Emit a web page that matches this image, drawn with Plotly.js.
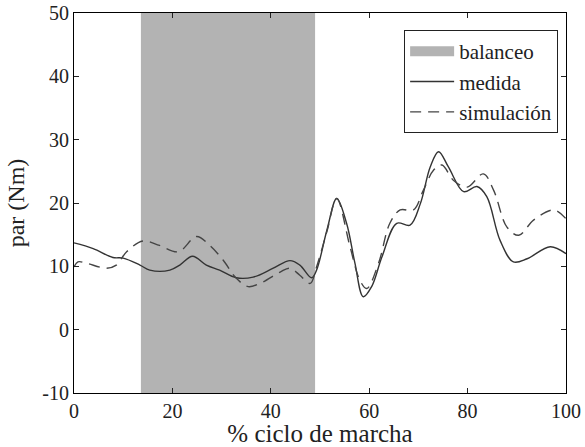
<!DOCTYPE html>
<html>
<head>
<meta charset="utf-8">
<script src="https://cdn.plot.ly/plotly-3.0.1.min.js"></script>
<style>html,body{margin:0;padding:0;background:#fff;}#chart{width:585px;height:447px;}</style>
</head>
<body>
<div id="chart"></div>
<script>
// Swing phase (balanceo) limits, % of gait cycle
const swingX = [13.6, 49.0, 49.0, 13.6, 13.6];
const swingY = [-10, -10, 50, 50, -10];

// Measured torque (medida)
const medidaX = [0, 3.9, 7.9, 10, 13.4, 15.4, 19.5, 21.5, 24.1, 26.9, 29.6, 33, 36.4, 40.5, 43.9, 45.9, 48.3, 49.3, 51.4, 53.4, 55.4, 57.1, 58.8, 60.5, 62.6, 65.6, 68.3, 70.4, 72.4, 74.1, 76.1, 79.2, 81.9, 83.9, 86.6, 89.3, 92.1, 96.8, 100];
const medidaY = [13.7, 12.8, 11.4, 11.3, 10.2, 9.4, 9.4, 10.2, 11.6, 10.2, 9.4, 8.2, 8.3, 9.7, 10.9, 10.2, 8.2, 9.4, 15.7, 20.7, 16.8, 10.5, 5.2, 6.8, 11.5, 16.8, 16.5, 19.9, 25.7, 28.1, 25.7, 21.8, 22.6, 21.0, 14.1, 10.7, 11.2, 13.1, 12.0];

// Simulated torque (simulación)
const simX = [0, 0.8, 2.5, 6.6, 8.6, 10.7, 14.0, 17.4, 21.2, 24.9, 27.6, 30.3, 33, 35.4, 37.8, 41.9, 43.9, 45.9, 48.0, 49.3, 51.4, 53.4, 56.1, 58.1, 59.5, 61.9, 64.2, 66.3, 69.0, 71.0, 73.1, 74.8, 77.1, 79.9, 83.2, 85.3, 88.0, 90.4, 93.4, 97.5, 100];
const simY = [9.9, 10.7, 10.5, 9.7, 10.2, 12.3, 14.0, 13.3, 12.3, 14.7, 13.3, 11.0, 8.1, 6.8, 7.3, 9.1, 9.7, 8.6, 7.3, 9.9, 15.5, 20.7, 13.1, 7.8, 6.5, 10.5, 16.8, 18.9, 18.9, 22.0, 25.2, 26.0, 23.6, 22.5, 24.6, 22.0, 16.2, 14.9, 17.3, 18.9, 17.5];

const xTickVals = [0, 20, 40, 60, 80, 100];
const xTickText = ['0', '20', '40', '60', '80', '100'];
const yTickVals = [-10, 0, 10, 20, 30, 40, 50];
const yTickText = ['-10', '0', '10', '20', '30', '40', '50'];

const serif = "'Liberation Serif', 'DejaVu Serif', serif";
const bandColor = '#b3b3b3';

const traces = [
  {x: swingX, y: swingY, type: 'scatter', mode: 'lines', fill: 'toself',
   fillcolor: bandColor, line: {width: 0, color: bandColor}, name: 'balanceo',
   showlegend: false, hoverinfo: 'skip'},
  // legend-only entry for the shaded swing band
  {x: [null], y: [null], type: 'scatter', mode: 'lines', name: 'balanceo',
   line: {color: bandColor, width: 20}},
  {x: medidaX, y: medidaY, type: 'scatter', mode: 'lines', name: 'medida',
   line: {color: '#333333', width: 1.4, shape: 'spline', smoothing: 1}},
  {x: simX, y: simY, type: 'scatter', mode: 'lines', name: 'simulación',
   line: {color: '#444444', width: 1.4, dash: '11px,7px', shape: 'spline', smoothing: 1}}
];

const axisCommon = {
  showgrid: false, zeroline: false, showline: true, linecolor: '#000', linewidth: 1,
  mirror: 'ticks', ticks: 'inside', ticklen: 5, tickcolor: '#222',
  tickfont: {family: serif, size: 20, color: '#222'}, tickmode: 'array'
};

const layout = {
  width: 585, height: 447,
  margin: {l: 74, r: 19, t: 13, b: 54},
  paper_bgcolor: '#fff', plot_bgcolor: '#fff',
  showlegend: true,
  legend: {x: 0.984, y: 0.955, xanchor: 'right', yanchor: 'top',
    bordercolor: '#222', borderwidth: 1, bgcolor: '#fff',
    font: {family: serif, size: 21, color: '#222'}, tracegroupgap: 0, itemwidth: 44},
  xaxis: Object.assign({}, axisCommon, {range: [0, 100], tickvals: xTickVals, ticktext: xTickText,
    title: {text: '% ciclo de marcha', font: {family: serif, size: 25, color: '#222'}, standoff: 5}}),
  yaxis: Object.assign({}, axisCommon, {range: [-10, 50], tickvals: yTickVals, ticktext: yTickText,
    title: {text: 'par (Nm)', font: {family: serif, size: 24, color: '#222'}, standoff: 10}})
};

Plotly.newPlot('chart', traces, layout, {displayModeBar: false, staticPlot: true});
</script>
</body>
</html>
